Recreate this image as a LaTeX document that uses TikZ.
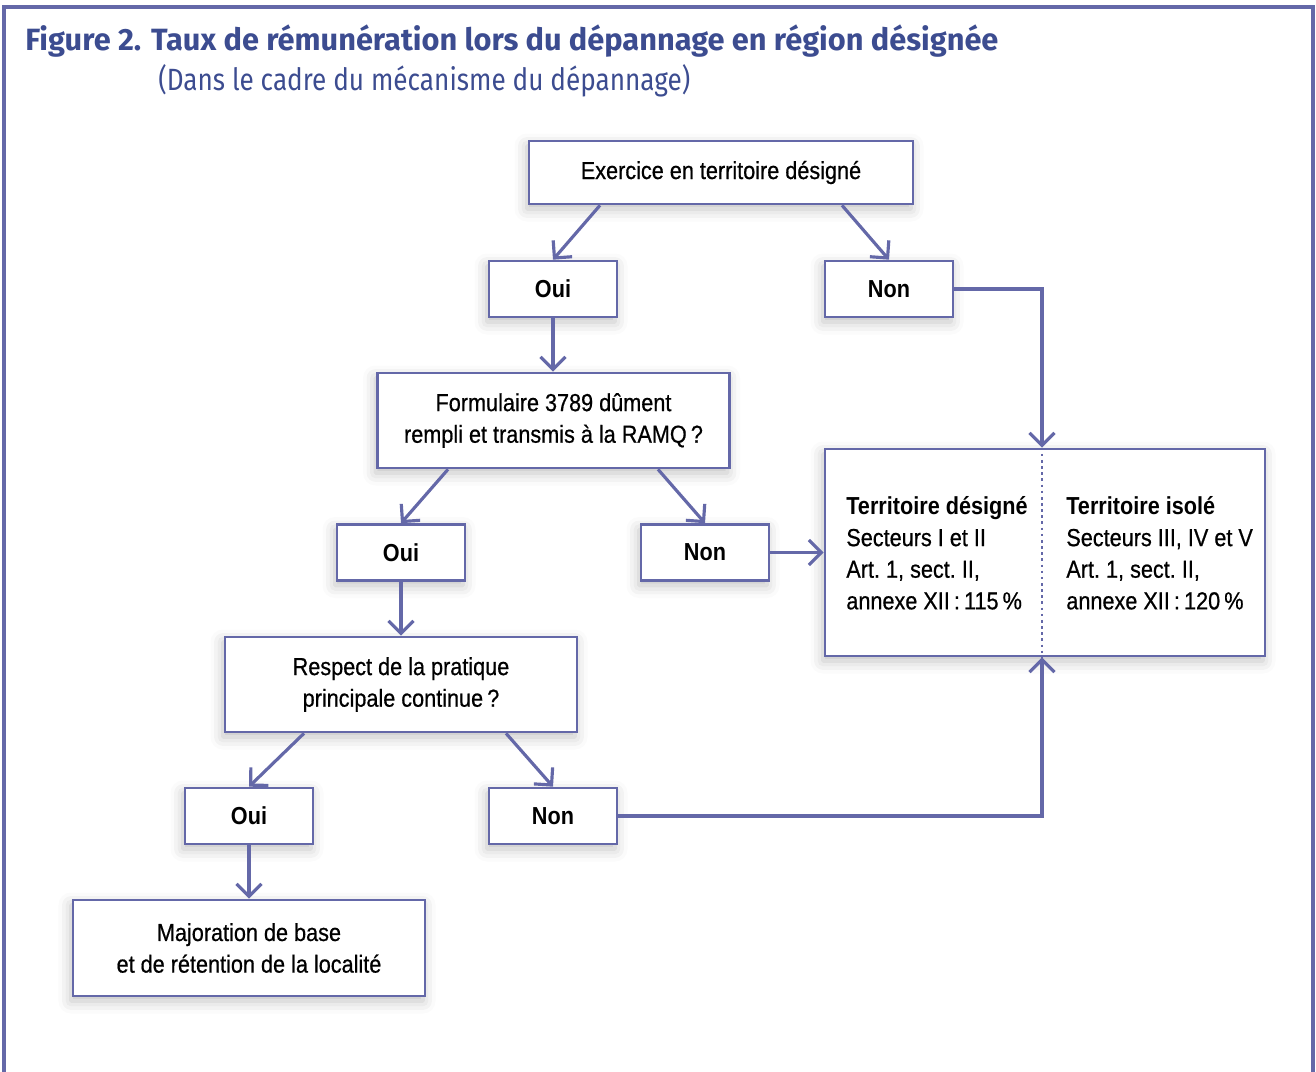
\documentclass[tikz,border=0pt]{standalone}
\usepackage{fontspec}
\setmainfont{Liberation Sans}[FakeStretch=0.88, UprightFeatures={FakeBold=0.6}]
\newfontfamily\titlefont{Fira Sans}[FakeStretch=1.0]
\newfontfamily\subtitlefont{Fira Sans}[FakeStretch=0.85]
\usepackage{xcolor}
\usetikzlibrary{arrows.meta,positioning,calc,shadows.blur}
\definecolor{rulecol}{HTML}{6468A8}
\definecolor{titlecol}{HTML}{3C4C90}

\begin{document}
\begin{tikzpicture}[x=0.2mm,y=-0.2mm,
	box/.style={
		draw=rulecol,
		line width=1.5pt,
		fill=white,
		align=center,
		inner sep=0pt,
		blur shadow={shadow xshift=-0.4mm, shadow yshift=-1mm, shadow blur radius=2.5mm, shadow opacity=25},
		font=\fontsize{14}{18}\selectfont
	},
	answer/.style={box, minimum width=25.6mm, minimum height=11.2mm, font=\fontsize{14}{18}\selectfont\bfseries},
	question/.style={box, minimum width=70.4mm, minimum height=19mm},
	flow/.style={draw=rulecol, line width=1.8pt, -{Straight Barb[length=2.5mm,width=5mm]}},
	column/.style={anchor=west, align=left, inner sep=0pt, font=\fontsize{14}{18}\selectfont},
	]
	\useasboundingbox (0,0) rectangle (1316,1072);
	\draw[rulecol, line width=2pt] (4,1072) -- (4,7) -- (1313,7) -- (1313,1072);
	
	\node[anchor=base west, inner sep=0pt, text=titlecol, font=\titlefont\fontsize{17.5}{21}\selectfont\bfseries] (title) at (25,50) {Figure 2. Taux de rémunération lors du dépannage en région désignée};
	\node[anchor=base west, inner sep=0pt, text=titlecol, font=\subtitlefont\fontsize{17.5}{21}\selectfont] (subtitle) at (158,90) {(Dans le cadre du mécanisme du dépannage)};
	
	\node[box, minimum width=76.8mm, minimum height=12.6mm] (exo) at (721,172.5) {Exercice en territoire désigné};
	\node[answer] (oui1) at (553,289) {Oui};
	\node[answer] (non1) at (889,289) {Non};
	\node[question] (form) at (553.5,420.5) {Formulaire 3789 dûment\\rempli et transmis à la RAMQ\,?};
	\node[answer] (oui2) at (401,552.5) {Oui};
	\node[answer] (non2) at (705,552.5) {Non};
	\node[question] (resp) at (401,684.5) {Respect de la pratique\\principale continue\,?};
	\node[answer] (oui3) at (249,816) {Oui};
	\node[answer] (non3) at (553,816) {Non};
	\node[question, minimum height=19.2mm] (major) at (249,948) {Majoration de base\\et de rétention de la localité};
	
	% result box with its two columns
	\node[box, minimum width=88mm, minimum height=41.4mm] (res) at (1045,552.5) {};
	\coordinate (split) at (1042,552.5);
	\draw[rulecol, line width=1.5pt, dotted] (res.north -| split) -- (res.south -| split);
	\node[column] (desig) at (846,553) {\textbf{Territoire désigné}\\Secteurs I et II\\Art.~1, sect.~II,\\annexe XII\,:\,115\,\%};
	\node[column] (isole) at (1066,553) {\textbf{Territoire isolé}\\Secteurs III, IV et V\\Art.~1, sect.~II,\\annexe XII\,:\,120\,\%};
	
	\draw[flow] ($(exo.south)+(-121,0)$) -- (oui1.north);
	\draw[flow] ($(exo.south)+(121,0)$) -- (non1.north);
	\draw[flow] (oui1.south) -- (oui1.south |- form.north);
	\draw[flow] ($(form.south)+(-105.5,0)$) -- (oui2.north);
	\draw[flow] ($(form.south)+(104.5,0)$) -- (non2.north);
	\draw[flow] (oui2.south) -- (resp.north);
	\draw[flow] ($(resp.south)+(-97,0)$) -- (oui3.north);
	\draw[flow] ($(resp.south)+(105,0)$) -- (non3.north);
	\draw[flow] (oui3.south) -- (major.north);
	\draw[flow] (non1.east) -| (res.north -| split);
	\draw[flow] (non2.east) -- (res.west);
	\draw[flow] (non3.east) -| (res.south -| split);
\end{tikzpicture}
\end{document}
